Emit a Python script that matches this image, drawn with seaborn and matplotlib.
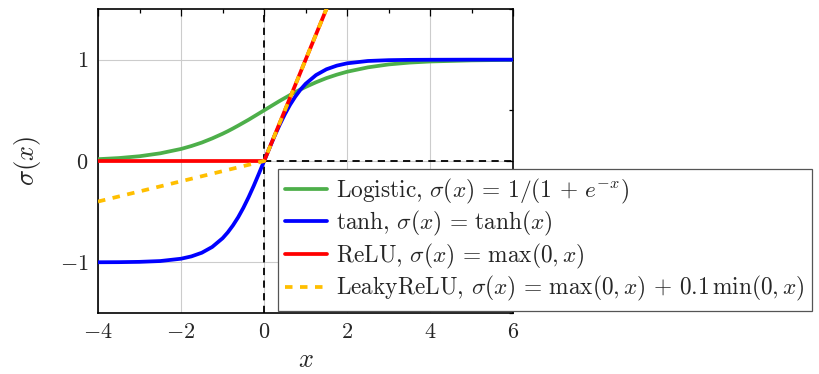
import numpy as np
import pandas as pd
import matplotlib
matplotlib.use("Agg")
import matplotlib.pyplot as plt
from matplotlib.ticker import FuncFormatter, MultipleLocator
from matplotlib.lines import Line2D
import seaborn as sns

# =====================================
# Data
# =====================================
x_smooth = [-4, -3.5, -3, -2.5, -2, -1.75, -1.5, -1.25, -1, -0.875, -0.75, -0.625,
            -0.5, -0.375, -0.25, -0.125, 0, 0.125, 0.25, 0.375, 0.5, 0.625, 0.75,
            0.875, 1, 1.25, 1.5, 1.75, 2, 2.5, 3, 3.5, 4, 5, 6]
logistic_vals = [0.018, 0.029, 0.047, 0.076, 0.119, 0.148, 0.182, 0.223, 0.269,
                 0.294, 0.321, 0.349, 0.378, 0.407, 0.438, 0.469, 0.5, 0.531,
                 0.562, 0.593, 0.622, 0.651, 0.679, 0.706, 0.731, 0.777, 0.818,
                 0.852, 0.881, 0.924, 0.953, 0.971, 0.982, 0.993, 0.998]
tanh_vals = [-0.999, -0.998, -0.995, -0.987, -0.964, -0.941, -0.905, -0.848,
             -0.762, -0.704, -0.635, -0.555, -0.462, -0.358, -0.245, -0.124, 0.0,
             0.124, 0.245, 0.358, 0.462, 0.555, 0.635, 0.704, 0.762, 0.848, 0.905,
             0.941, 0.964, 0.987, 0.995, 0.998, 0.999, 1.0, 1.0]
x_piece = [-4, 0, 6]
relu_vals = [0, 0, 6]
leaky_vals = [-0.4, 0, 6]

labels = [
    r"Logistic, $\sigma(x)\,=\,1/(1\,+\,e^{-x})$",
    r"tanh, $\sigma(x)\,=\,\tanh(x)$",
    r"ReLU, $\sigma(x)\,=\,\max(0,x)$",
    r"LeakyReLU, $\sigma(x)\,=\,\max(0,x)\,+\,0.1\,\min(0,x)$",
]
colors = ["#4daf4a", "#0000ff", "#ff0000", "#ffbf00"]

df_logistic = pd.DataFrame({"x": x_smooth, "y": logistic_vals})
df_tanh = pd.DataFrame({"x": x_smooth, "y": tanh_vals})
df_relu = pd.DataFrame({"x": x_piece, "y": relu_vals})
df_leaky = pd.DataFrame({"x": x_piece, "y": leaky_vals})

# =====================================
# Style
# =====================================
sns.set_theme(style="white")
plt.rcParams["font.family"] = ["serif"]
plt.rcParams["font.serif"] = ["cmr10", "DejaVu Serif"]
plt.rcParams["mathtext.fontset"] = "cm"
plt.rcParams["axes.unicode_minus"] = False
plt.rcParams["axes.formatter.use_mathtext"] = True

fig = plt.figure(figsize=(8.2, 3.74), dpi=100)
ax = fig.add_axes([0.1195, 0.163, 0.5065, 0.813])

lw = 2.7
dash = (0, (2.0, 2.0))
sns.lineplot(data=df_logistic, x="x", y="y", color=colors[0], lw=lw, ax=ax, zorder=3)
sns.lineplot(data=df_tanh, x="x", y="y", color=colors[1], lw=lw, ax=ax, zorder=4)
sns.lineplot(data=df_relu, x="x", y="y", color=colors[2], lw=lw, ax=ax, zorder=5)
sns.lineplot(data=df_leaky, x="x", y="y", color=colors[3], lw=lw, ax=ax, zorder=6,
             linestyle=dash)

# dashed reference lines
ax.axvline(0, color="black", lw=1.3, ls=(0, (4, 3)), zorder=2)
ax.plot([0, 6], [0, 0], color="black", lw=1.3, ls=(0, (4, 3)), zorder=2)

ax.set_xlim(-4, 6)
ax.set_ylim(-1.5, 1.5)
ax.xaxis.set_major_locator(MultipleLocator(2))
ax.xaxis.set_minor_locator(MultipleLocator(1))
ax.yaxis.set_major_locator(MultipleLocator(1))
ax.yaxis.set_minor_locator(MultipleLocator(0.5))
fmt = FuncFormatter(lambda v, p: r"$%d$" % int(round(v)))
ax.xaxis.set_major_formatter(fmt)
ax.yaxis.set_major_formatter(fmt)
ax.tick_params(which="both", direction="in", top=True, right=True,
               labelsize=16, color="black", pad=7)
ax.tick_params(which="major", length=5, width=0.9)
ax.tick_params(which="minor", length=3, width=0.9)
ax.grid(True, which="major", color="#cccccc", lw=0.8, zorder=0)
for s in ax.spines.values():
    s.set_color("black")
    s.set_linewidth(1.2)

ax.set_xlabel(r"$x$", fontsize=19, labelpad=4)
ax.set_ylabel(r"$\sigma(x)$", fontsize=19, labelpad=12)

handles = [
    Line2D([], [], color=colors[0], lw=lw),
    Line2D([], [], color=colors[1], lw=lw),
    Line2D([], [], color=colors[2], lw=lw),
    Line2D([], [], color=colors[3], lw=lw, linestyle=dash),
]
leg = fig.legend(handles, labels, loc="upper left", bbox_to_anchor=(0.339, 0.548),
                 fontsize=16.8, frameon=True, fancybox=False, edgecolor="#555555",
                 framealpha=1, handlelength=1.8, handletextpad=0.35,
                 labelspacing=0.15, borderpad=0.32, borderaxespad=0)
leg.get_frame().set_linewidth(0.9)
leg.set_zorder(10)

plt.savefig("out.png", dpi=100)
